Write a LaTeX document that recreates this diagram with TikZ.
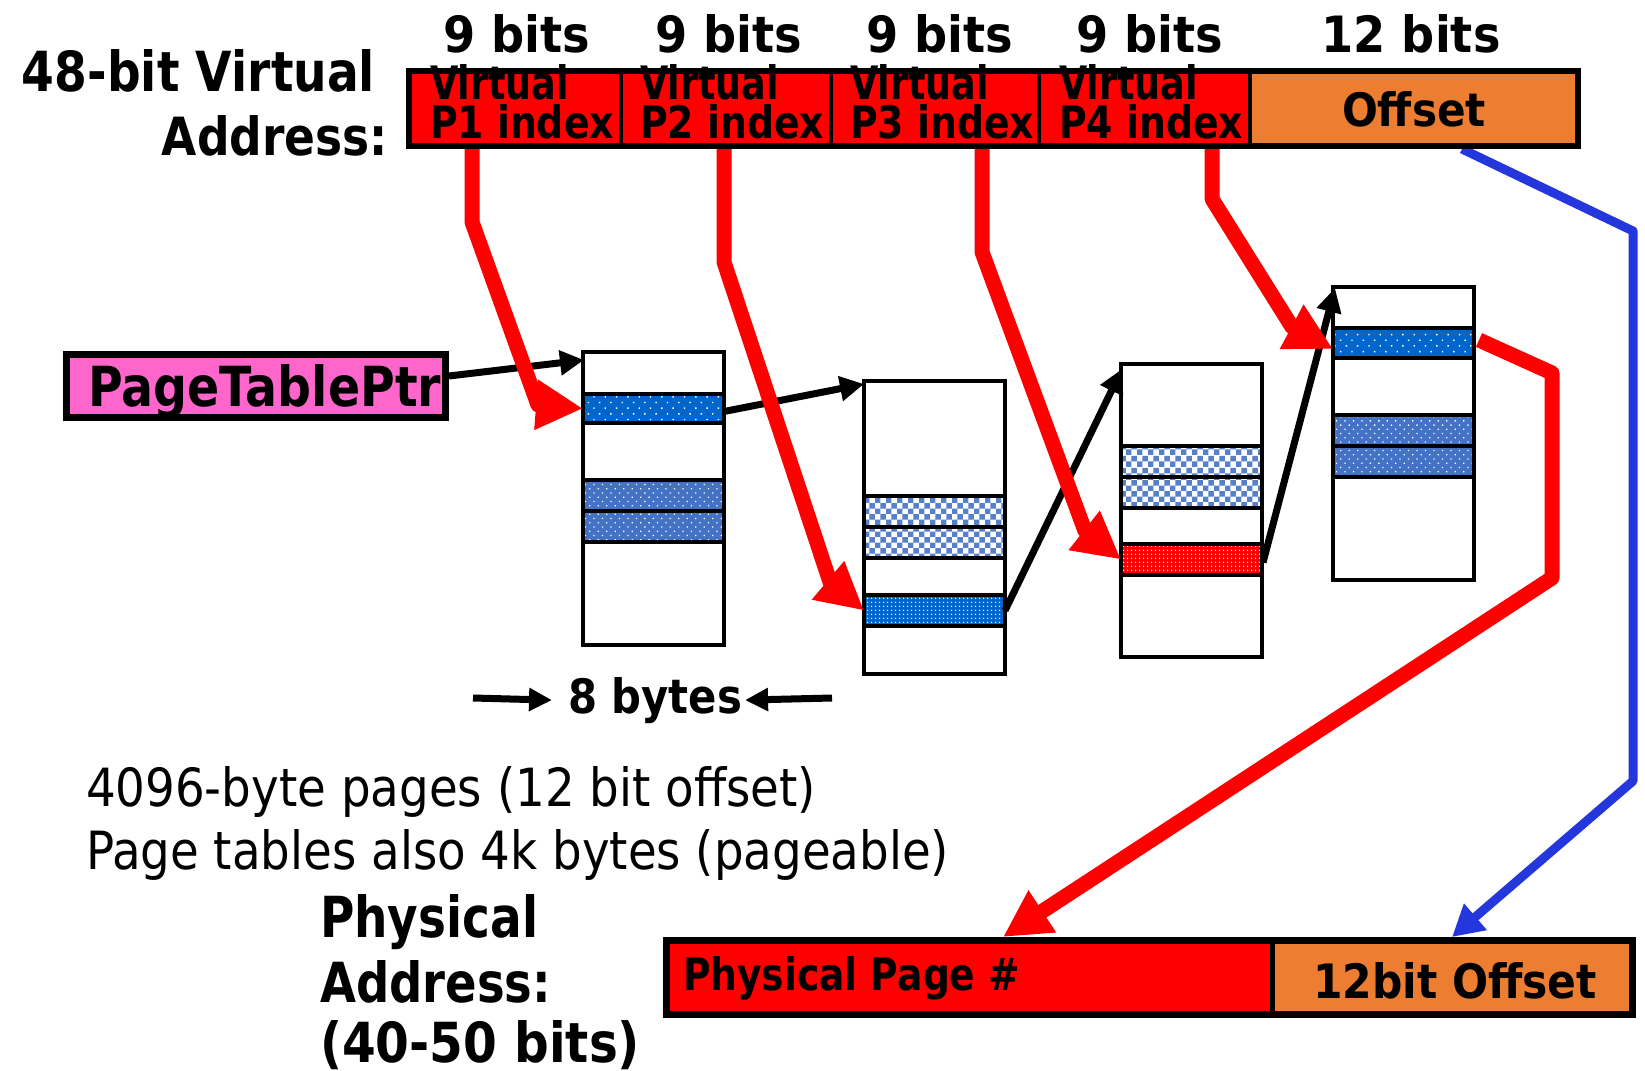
\documentclass[tikz,border=0pt]{standalone}
\usepackage{fontspec}
\setmainfont{DejaVu Sans}
\usepackage{graphicx}
\usetikzlibrary{arrows.meta,patterns,patterns.meta,calc}
\definecolor{pred}{HTML}{FF0000}
\definecolor{porange}{HTML}{ED7D31}
\definecolor{ppink}{HTML}{FF66CC}
\definecolor{dblue}{HTML}{0066CC}
\definecolor{mblue}{HTML}{4472C4}
\definecolor{ablue}{HTML}{2337DD}
\newcommand\fitbox[3]{\resizebox{#1pt}{#2pt}{#3}}
\begin{document}
\begin{tikzpicture}[x=1pt,y=-1pt,
  txt/.style={inner sep=0pt,outer sep=0pt},
  cellbox/.style={inner sep=0pt,outer sep=0pt,anchor=north west,minimum height=81pt},
  tbl/.style={draw,line width=3.5pt,fill=white,inner sep=0pt,outer sep=0pt,anchor=north west,minimum width=141pt,minimum height=293pt},
  ent/.style={draw,line width=4.5pt,inner sep=0pt,outer sep=0pt,anchor=north west,minimum width=141pt},
  edark/.style={ent,preaction={fill=dblue},pattern={Dots[distance=8pt,radius=1pt,angle=45]},pattern color=white},
  edarkd/.style={ent,preaction={fill=dblue},pattern={Dots[distance=4pt,radius=0.9pt]},pattern color=white},
  emed/.style={ent,preaction={fill=mblue},pattern={Dots[distance=6pt,radius=0.9pt,angle=45]},pattern color=white},
  echeck/.style={ent,preaction={fill=white},pattern=checkerboard,pattern color=mblue!90},
  ered/.style={ent,preaction={fill=pred},pattern={Dots[distance=4pt,radius=0.9pt]},pattern color=white},
  blk/.style={line width=7pt,-{Triangle[length=24pt,width=24pt]}},
  redarr/.style={draw=pred,line width=15pt,line join=round,-{Triangle[length=47pt,width=47pt]}},
  bluearr/.style={draw=ablue,line width=9pt,line join=round,-{Triangle[length=31pt,width=33pt]}},
  dimarr/.style={line width=7pt,-{Triangle[length=23pt,width=22pt]}}
]
\useasboundingbox (0,0) rectangle (1645,1070);

% ---- page tables ----
\node[tbl] (t1) at (583,352) {};
\node[edark,minimum height=29pt] (t1a) at (583,394) {};
\node[emed,minimum height=31pt] (t1b) at (583,480) {};
\node[emed,minimum height=31pt] (t1c) at (583,511) {};

\node[tbl] (t2) at (864,381) {};
\node[echeck,minimum height=31pt] (t2a) at (864,496) {};
\node[echeck,minimum height=31pt] (t2b) at (864,527) {};
\node[edarkd,minimum height=31pt] (t2c) at (864,595) {};

\node[tbl] (t3) at (1121,364) {};
\node[echeck,minimum height=31pt] (t3a) at (1121,446) {};
\node[echeck,minimum height=31pt] (t3b) at (1121,477) {};
\node[ered,minimum height=31pt] (t3c) at (1121,544) {};

\node[tbl] (t4) at (1333,287) {};
\node[edark,minimum height=30pt] (t4a) at (1333,328) {};
\node[emed,minimum height=31pt] (t4b) at (1333,415) {};
\node[emed,minimum height=31pt] (t4c) at (1333,446) {};

% ---- PageTablePtr ----
\node[draw,line width=7pt,fill=ppink,inner sep=0pt,minimum width=379pt,minimum height=63pt] (ptr) at (256,386) {};
\node[txt,anchor=base west] (ptrt) at (88,406) {\fitbox{353}{42}{\bfseries PageTablePtr}};

% ---- top bar cells ----
\node[cellbox,fill=pred,minimum width=215pt] (c1) at (406,68) {};
\node[cellbox,fill=pred,minimum width=210pt] (c2) at (621,68) {};
\node[cellbox,fill=pred,minimum width=208pt] (c3) at (831,68) {};
\node[cellbox,fill=pred,minimum width=211pt] (c4) at (1039,68) {};
\node[cellbox,fill=porange,minimum width=331pt] (coff) at (1250,68) {};

% ---- bottom bar cells ----
\node[cellbox,fill=pred,minimum width=609pt] (pp) at (663,937) {};
\node[cellbox,fill=porange,minimum width=364pt] (off2) at (1272,937) {};

% ---- black arrows ----
\draw[blk] ($(ptr.east)+(0,-10)$) -- ($(t1.north west)+(1,8)$);
\draw[blk] ($(t1a.east)+(0,3)$) -- ($(t2.north west)+(0,3)$);
\draw[blk] (t2c.east) -- ($(t3.north west)+(1,5)$);
\draw[blk] ($(t3c.east)+(1,3)$) -- ($(t4.north west)+(2,1)$);

% ---- red arrows ----
\draw[redarr] ($(c1.south west)+(66,0)$) -- ++(0,73) -- (538,405) -- (t1a.west);
\draw[redarr] ($(c2.south west)+(103,0)$) -- ++(0,113) -- (830,582) -- (t2c.west);
\draw[redarr] ($(c3.south west)+(151,0)$) -- ++(0,103) -- (1085,531) -- (t3c.west);
\draw[redarr] ($(c4.south west)+(173,0)$) -- ++(0,50) -- (1292,327) -- ($(t4a.west)+(0,6)$);
\draw[redarr] ($(t4a.east)+(5,-3)$) -- (1552,373) -- (1552,578) -- ($(pp.north west)+(340,0)$);

% ---- blue arrow ----
\draw[bluearr] ($(coff.south west)+(212,0)$) -- (1633,231) -- (1633,781) -- ($(off2.north west)+(180,0)$);

% ---- top bar texts & borders ----
\node[txt,anchor=base west] (v1a) at (430,100) {\fitbox{139}{35}{\bfseries Virtual}};
\node[txt,anchor=base west] (v1b) at (430,138) {\fitbox{184}{34}{\bfseries P1 index}};
\node[txt,anchor=base west] (v2a) at (640,100) {\fitbox{139}{35}{\bfseries Virtual}};
\node[txt,anchor=base west] (v2b) at (640,138) {\fitbox{184}{34}{\bfseries P2 index}};
\node[txt,anchor=base west] (v3a) at (850,100) {\fitbox{139}{35}{\bfseries Virtual}};
\node[txt,anchor=base west] (v3b) at (850,138) {\fitbox{184}{34}{\bfseries P3 index}};
\node[txt,anchor=base west] (v4a) at (1059,100) {\fitbox{139}{35}{\bfseries Virtual}};
\node[txt,anchor=base west] (v4b) at (1059,138) {\fitbox{184}{34}{\bfseries P4 index}};
\node[txt,anchor=base] (offt) at (1414,127) {\fitbox{144}{35}{\bfseries Offset}};

\draw[line width=6pt] ($(c1.north west)+(3,3)$) rectangle ($(coff.south east)+(-3,-3)$);
\foreach \c in {c1,c2,c3,c4}
  \draw[line width=4.5pt] (\c.north east) -- (\c.south east);

% ---- bottom bar texts & borders ----
\node[txt,anchor=base west] (ppt) at (683,990) {\fitbox{337}{34}{\bfseries Physical Page \#}};
\node[txt,anchor=base] (off2t) at (1455,998) {\fitbox{284}{36}{\bfseries 12bit Offset}};
\draw[line width=7pt] ($(pp.north west)+(3.5,3.5)$) rectangle ($(off2.south east)+(-3.5,-3.5)$);
\draw[line width=5pt] (pp.north east) -- (pp.south east);

% ---- bit labels ----
\node[txt,anchor=base] (b1) at (517,53) {\fitbox{147}{38}{\bfseries 9 bits}};
\node[txt,anchor=base] (b2) at (729,53) {\fitbox{147}{38}{\bfseries 9 bits}};
\node[txt,anchor=base] (b3) at (940,53) {\fitbox{147}{38}{\bfseries 9 bits}};
\node[txt,anchor=base] (b4) at (1150,53) {\fitbox{147}{38}{\bfseries 9 bits}};
\node[txt,anchor=base] (b5) at (1411,53) {\fitbox{179}{38}{\bfseries 12 bits}};

% ---- left labels ----
\node[txt,anchor=base east] (va1) at (375,92) {\fitbox{353}{42}{\bfseries 48-bit Virtual}};
\node[txt,anchor=base east] (va2) at (388,155) {\fitbox{226}{40}{\bfseries Address:}};

% ---- 8 bytes ----
\node[txt,anchor=base west] (eb) at (568,713) {\fitbox{174}{36}{\bfseries 8 bytes}};
\coordinate (ebl) at (473,698);
\coordinate (ebr) at (832,698);
\draw[dimarr] (ebl) -- ($(eb.west)+(-16,0)$ |- ebl);
\draw[dimarr] (ebr) -- ($(eb.east)+(3,0)$ |- ebr);

% ---- body text ----
\node[txt,anchor=base west] (n1) at (86,806) {\fitbox{730}{40}{4096-byte pages (12 bit offset)}};
\node[txt,anchor=base west] (n2) at (86,869) {\fitbox{863}{40}{Page tables also 4k bytes (pageable)}};

% ---- physical address label ----
\node[txt,anchor=base west] (pa1) at (320,937) {\fitbox{218}{43}{\bfseries Physical}};
\node[txt,anchor=base west] (pa2) at (320,1002) {\fitbox{231}{42}{\bfseries Address:}};
\node[txt,anchor=base west] (pa3) at (320,1062) {\fitbox{320}{42}{\bfseries (40-50 bits)}};
\end{tikzpicture}
\end{document}
